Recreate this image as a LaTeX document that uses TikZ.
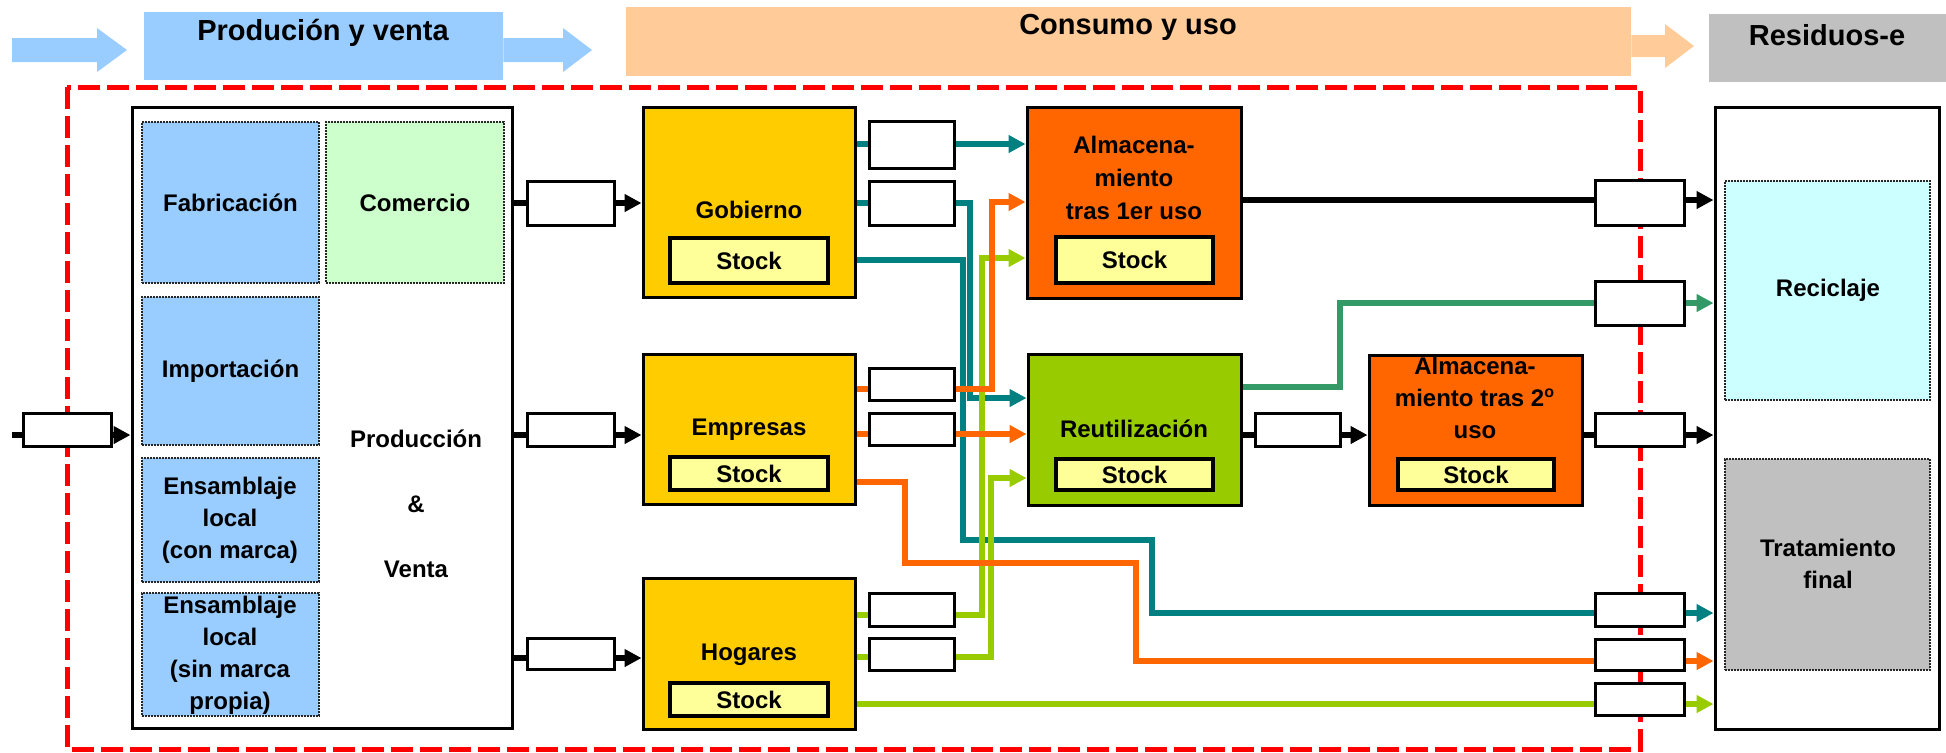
\documentclass[tikz,border=0pt]{standalone}
\usepackage{fontspec}
\setmainfont{Liberation Sans}
\usetikzlibrary{arrows.meta}
\definecolor{hblue}{HTML}{99CCFF}
\definecolor{hpeach}{HTML}{FFCC99}
\definecolor{hgray}{HTML}{C0C0C0}
\definecolor{cgreen}{HTML}{CCFFCC}
\definecolor{ccyan}{HTML}{CCFFFF}
\definecolor{cyel}{HTML}{FFCC00}
\definecolor{corange}{HTML}{FF6600}
\definecolor{clime}{HTML}{99CC00}
\definecolor{cstock}{HTML}{FFFF99}
\definecolor{cteal}{HTML}{008080}
\definecolor{csea}{HTML}{339966}
\definecolor{cred}{HTML}{FF0000}
\newcommand\mkbox[7]{%
  \pgfmathsetmacro\mkboxw{(#5-#3)*0.5}%
  \pgfmathsetmacro\mkboxh{(#6-#4)*0.5}%
  \node[#2, minimum width=\mkboxw pt, minimum height=\mkboxh pt, inner sep=0pt] (#1) at ({(#3+#5)/2},{(#4+#6)/2}) {#7};}
\tikzset{
  hdrtxt/.style={font=\bfseries\fontsize{14.5}{17}\selectfont, inner sep=0pt},
  txt/.style={font=\bfseries\fontsize{12}{16}\selectfont, align=center, inner sep=0pt},
  bigbox/.style={draw=black, line width=1.5pt},
  dotbox/.style={draw=black!85, line width=1.3pt, dash pattern=on 0.9pt off 0.6pt},
  stockbox/.style={draw=black, fill=cstock, line width=1.6pt},
  conbox/.style={draw=black, fill=white, line width=1.5pt},
  flow/.style={line width=3pt},
  arr/.style={-{Triangle[length=8.5pt,width=8.5pt]}},
  blk/.style={flow, black},
  tl/.style={flow, cteal},
  ol/.style={flow, corange},
  gl/.style={flow, clime},
  sl/.style={flow, csea},
}
\begin{document}
\begin{tikzpicture}[x=0.5pt, y=-0.5pt]
\useasboundingbox (0,0) rectangle (1946,752);
% red dashed frame
\draw[cred, line width=2.5pt, dash pattern=on 11pt off 3.5pt] (67,87) rectangle (1640,749);
% header
\fill[hblue] (12,38) -- (97,38) -- (97,28) -- (127,50) -- (97,72) -- (97,62) -- (12,62) -- cycle;
\mkbox{hdrA}{fill=hblue}{144}{12}{503}{80}{}
\node[hdrtxt] (hdrAt) at (323,33) {Produción y venta};
\fill[hblue] (hdrA.east |- 0,38) -- (563,38) -- (563,28) -- (592,50) -- (563,72) -- (563,62) -- (hdrA.east |- 0,62) -- cycle;
\mkbox{hdrB}{fill=hpeach}{626}{7}{1631}{76}{}
\node[hdrtxt] (hdrBt) at (1128,27) {Consumo y uso};
\fill[hpeach] (hdrB.east |- 0,35) -- (1665,35) -- (1665,24) -- (1694,46) -- (1665,68) -- (1665,57) -- (hdrB.east |- 0,57) -- cycle;
\mkbox{hdrC}{fill=hgray}{1709}{14}{1946}{82}{}
\node[hdrtxt] (hdrCt) at (1827,35) {Residuos-e};
% left big box
\mkbox{main}{bigbox, fill=white}{132}{107}{512}{728}{}
\mkbox{fab}{dotbox, fill=hblue}{142}{122}{319}{283}{}
\node[txt] (fabt) at (fab.center) {Fabricación};
\mkbox{com}{dotbox, fill=cgreen}{326}{122}{504}{283}{}
\node[txt] (comt) at (com.center) {Comercio};
\mkbox{imp}{dotbox, fill=hblue}{142}{297}{319}{445}{}
\node[txt] (impt) at (imp.center) {Importación};
\mkbox{ens1}{dotbox, fill=hblue}{142}{458}{319}{582}{}
\node[txt] (ens1t) at (230,520) {Ensamblaje\\local\\(con marca)};
\mkbox{ens2}{dotbox, fill=hblue}{142}{593}{319}{716}{}
\node[txt] (ens2t) at (230,655) {Ensamblaje\\local\\(sin marca\\propia)};
\node[txt, font=\bfseries\fontsize{12}{32.5}\selectfont] (pv) at (416,504) {Producción\\\&\\Venta};
% right big box
\mkbox{res}{bigbox, fill=white}{1715}{107}{1939}{729}{}
\mkbox{rec}{dotbox, fill=ccyan}{1725}{181}{1930}{400}{}
\node[txt] (rect) at (1828,290) {Reciclaje};
\mkbox{tra}{dotbox, fill=hgray}{1725}{459}{1930}{670}{}
\node[txt] (trat) at (1828,564) {Tratamiento\\final};
% consumers
\mkbox{gob}{bigbox, fill=cyel}{643}{107}{855}{297}{}
\node[txt] (gobt) at (749,210) {Gobierno};
\mkbox{gobs}{stockbox}{670}{238}{828}{283}{}
\node[txt] at (gobs.center) {Stock};
\mkbox{emp}{bigbox, fill=cyel}{643}{354}{855}{504}{}
\node[txt] (empt) at (749,430) {Empresas};
\mkbox{emps}{stockbox}{670}{457}{828}{490}{}
\node[txt] at (emps.center) {Stock};
\mkbox{hog}{bigbox, fill=cyel}{643}{578}{855}{729}{}
\node[txt] (hogt) at (749,655) {Hogares};
\mkbox{hogs}{stockbox}{670}{683}{828}{716}{}
\node[txt] at (hogs.center) {Stock};
\mkbox{alm1}{bigbox, fill=corange}{1027}{107}{1241}{298}{}
\node[txt, font=\bfseries\fontsize{12}{16.3}\selectfont] (alm1t) at (1134,178) {Almacena-\\miento\\tras 1er uso};
\mkbox{alm1s}{stockbox}{1056}{237}{1213}{283}{}
\node[txt] at (alm1s.center) {Stock};
\mkbox{reu}{bigbox, fill=clime}{1028}{354}{1241}{505}{}
\node[txt] (reut) at (1134,429) {Reutilización};
\mkbox{reus}{stockbox}{1056}{459}{1213}{490}{}
\node[txt] at (reus.center) {Stock};
\mkbox{alm2}{bigbox, fill=corange}{1369}{355}{1582}{505}{}
\node[txt, font=\bfseries\fontsize{12}{15.8}\selectfont] (alm2t) at (1475,398) {Almacena-\\miento tras 2\textsuperscript{o}\\uso};
\mkbox{alm2s}{stockbox}{1398}{459}{1554}{490}{}
\node[txt] at (alm2s.center) {Stock};
% connector boxes
\mkbox{c0}{conbox}{23}{413}{111}{446}{}
\mkbox{c1}{conbox}{527}{181}{614}{225}{}
\mkbox{c2}{conbox}{527}{413}{614}{446}{}
\mkbox{c3}{conbox}{527}{638}{614}{669}{}
\mkbox{g1}{conbox}{869}{121}{954}{168}{}
\mkbox{g2}{conbox}{869}{181}{954}{225}{}
\mkbox{e1}{conbox}{869}{368}{954}{400}{}
\mkbox{e2}{conbox}{869}{413}{954}{445}{}
\mkbox{h1}{conbox}{869}{593}{954}{626}{}
\mkbox{h2}{conbox}{869}{638}{954}{670}{}
\mkbox{m1}{conbox}{1255}{413}{1340}{446}{}
\mkbox{r1}{conbox}{1595}{180}{1684}{225}{}
\mkbox{r2}{conbox}{1595}{281}{1684}{325}{}
\mkbox{r3}{conbox}{1595}{413}{1684}{446}{}
\mkbox{r4}{conbox}{1595}{593}{1684}{626}{}
\mkbox{r5}{conbox}{1595}{639}{1684}{670}{}
\mkbox{r6}{conbox}{1595}{683}{1684}{715}{}
\coordinate (inL) at (12,435);
% black flows
\draw[blk] (inL) -- (c0.west |- inL);
\draw[blk, arr] (c0.east |- inL) -- (main.west |- inL);
\draw[blk] (main.east |- 0,203) -- (c1.west |- 0,203);
\draw[blk, arr] (c1.east |- 0,203) -- (gob.west |- 0,203);
\draw[blk] (main.east |- 0,435) -- (c2.west |- 0,435);
\draw[blk, arr] (c2.east |- 0,435) -- (emp.west |- 0,435);
\draw[blk] (main.east |- 0,658) -- (c3.west |- 0,658);
\draw[blk, arr] (c3.east |- 0,658) -- (hog.west |- 0,658);
\draw[blk] (alm1.east |- 0,200) -- (r1.west |- 0,200);
\draw[blk, arr] (r1.east |- 0,200) -- (res.west |- 0,200);
\draw[blk] (reu.east |- 0,435) -- (m1.west |- 0,435);
\draw[blk, arr] (m1.east |- 0,435) -- (alm2.west |- 0,435);
\draw[blk] (alm2.east |- 0,435) -- (r3.west |- 0,435);
\draw[blk, arr] (r3.east |- 0,435) -- (res.west |- 0,435);
% teal flows
\draw[tl] (gob.east |- 0,144) -- (g1.west |- 0,144);
\draw[tl, arr] (g1.east |- 0,144) -- (alm1.west |- 0,144);
\draw[tl] (gob.east |- 0,203) -- (g2.west |- 0,203);
\draw[tl, arr] (g2.east |- 0,203) -- (970,203) -- (970,398) -- (reu.west |- 0,398);
\draw[tl] (gob.east |- 0,260) -- (963,260) -- (963,540) -- (1152,540) -- (1152,613) -- (r4.west |- 0,613);
\draw[tl, arr] (r4.east |- 0,613) -- (res.west |- 0,613);
% lime flows
\draw[gl] (hog.east |- 0,615) -- (h1.west |- 0,615);
\draw[gl, arr] (h1.east |- 0,615) -- (982,615) -- (982,258) -- (alm1.west |- 0,258);
\draw[gl] (hog.east |- 0,657) -- (h2.west |- 0,657);
\draw[gl, arr] (h2.east |- 0,657) -- (991,657) -- (991,478) -- (reu.west |- 0,478);
\draw[gl] (hog.east |- 0,704) -- (r6.west |- 0,704);
\draw[gl, arr] (r6.east |- 0,704) -- (res.west |- 0,704);
% orange flows
\draw[ol] (emp.east |- 0,389) -- (e1.west |- 0,389);
\draw[ol, arr] (e1.east |- 0,389) -- (992,389) -- (992,202) -- (alm1.west |- 0,202);
\draw[ol] (emp.east |- 0,434) -- (e2.west |- 0,434);
\draw[ol, arr] (e2.east |- 0,434) -- (reu.west |- 0,434);
\draw[ol] (emp.east |- 0,482) -- (905,482) -- (905,563) -- (1136,563) -- (1136,661) -- (r5.west |- 0,661);
\draw[ol, arr] (r5.east |- 0,661) -- (res.west |- 0,661);
% sea green flow
\draw[sl] (reu.east |- 0,387) -- (1340,387) -- (1340,303) -- (r2.west |- 0,303);
\draw[sl, arr] (r2.east |- 0,303) -- (res.west |- 0,303);
\end{tikzpicture}
\end{document}
